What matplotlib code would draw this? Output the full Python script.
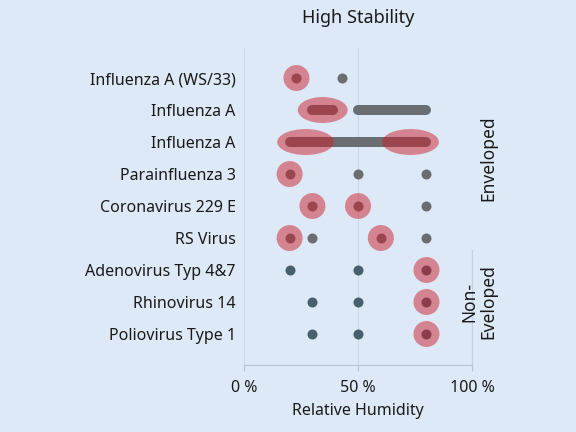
import matplotlib
matplotlib.use("Agg")
import matplotlib.pyplot as plt
from matplotlib.patches import Ellipse

plt.rcParams['font.family'] = ['Noto Sans', 'DejaVu Sans']

viruses = ["Influenza A (WS/33)", "Influenza A", "Influenza A", "Parainfluenza 3",
           "Coronavirus 229 E", "RS Virus", "Adenovirus Typ 4&7", "Rhinovirus 14",
           "Poliovirus Type 1"]
enveloped = [True, True, True, True, True, True, False, False, False]

# tested humidity points (single values) per virus
tested_points = [[23, 43], [], [], [20, 50, 80], [30, 50, 80], [20, 30, 60, 80],
                 [20, 50, 80], [30, 50, 80], [30, 50, 80]]
# tested humidity ranges per virus
tested_ranges = [[], [(30, 39), (50, 80)], [(20, 80)], [], [], [], [], [], []]
# high stability: points and ranges
stable_points = [[23], [], [], [20], [30, 50], [20, 60], [80], [80], [80]]
stable_ranges = [[], [(30, 39)], [(21, 33), (67, 79)], [], [], [], [], [], []]

bg = '#dde9f6'
gray_env = '#6a6e72'
gray_non = '#48606d'
red = '#cd1e2d'

fig = plt.figure(figsize=(5.76, 4.32), dpi=100, facecolor=bg)
ax = fig.add_axes([0.4236, 0.155, 0.396, 0.734], facecolor=bg)
ax.set_xlim(0, 100)
ax.set_ylim(8.97, -0.94)

pad_x = 11.4   # ellipse padding in x units (~26 px)
ell_h = 0.81

for i in range(len(viruses)):
    c = gray_env if enveloped[i] else gray_non
    for lo, hi in tested_ranges[i]:
        ax.plot([lo, hi], [i, i], color=c, lw=7.2, solid_capstyle='round', zorder=2)
    if tested_points[i]:
        ax.scatter(tested_points[i], [i] * len(tested_points[i]), s=52, color=c,
                   linewidths=0, zorder=3)
    for p in stable_points[i]:
        ax.add_patch(Ellipse((p, i), pad_x, ell_h, color=red, alpha=0.5, lw=0, zorder=4))
    for lo, hi in stable_ranges[i]:
        ax.add_patch(Ellipse(((lo + hi) / 2, i), hi - lo + pad_x + 1.5, ell_h,
                             color=red, alpha=0.5, lw=0, zorder=4))

ax.set_yticks(range(len(viruses)))
ax.set_yticklabels(viruses, fontsize=11.5, color='#1a1a1a')
ax.tick_params(axis='y', length=0, pad=6)
ax.set_xticks([0, 50, 100])
ax.set_xticklabels(['0 %', '50 %', '100 %'], fontsize=11.5, color='#1a1a1a')
ax.tick_params(axis='x', length=4, color='#b8c4d0', pad=7)
ax.set_xlabel('Relative Humidity', fontsize=11.5, color='#1a1a1a', labelpad=5)

ax.grid(axis='x', color='#cbd9e7', lw=0.8)
ax.set_axisbelow(True)
for s in ['top', 'right', 'left']:
    ax.spines[s].set_visible(False)
ax.spines['bottom'].set_color('#b8c4d0')

ax.plot([100, 100], [5.375, 8.97], color='#c2d2e2', lw=0.9, zorder=1, clip_on=False)

ax.text(1.07, 2.5, 'Enveloped', transform=ax.get_yaxis_transform(), rotation=90,
        ha='center', va='center', fontsize=12.5, color='#1a1a1a')
ax.text(1.03, 7.0, 'Non-\nEveloped', transform=ax.get_yaxis_transform(), rotation=90,
        ha='center', va='center', fontsize=12.5, color='#1a1a1a', linespacing=1.05)

fig.text(0.622, 0.958, 'High Stability', ha='center', va='center', fontsize=13,
         color='#1a1a1a')

fig.savefig('out.png', dpi=100, facecolor=bg)
